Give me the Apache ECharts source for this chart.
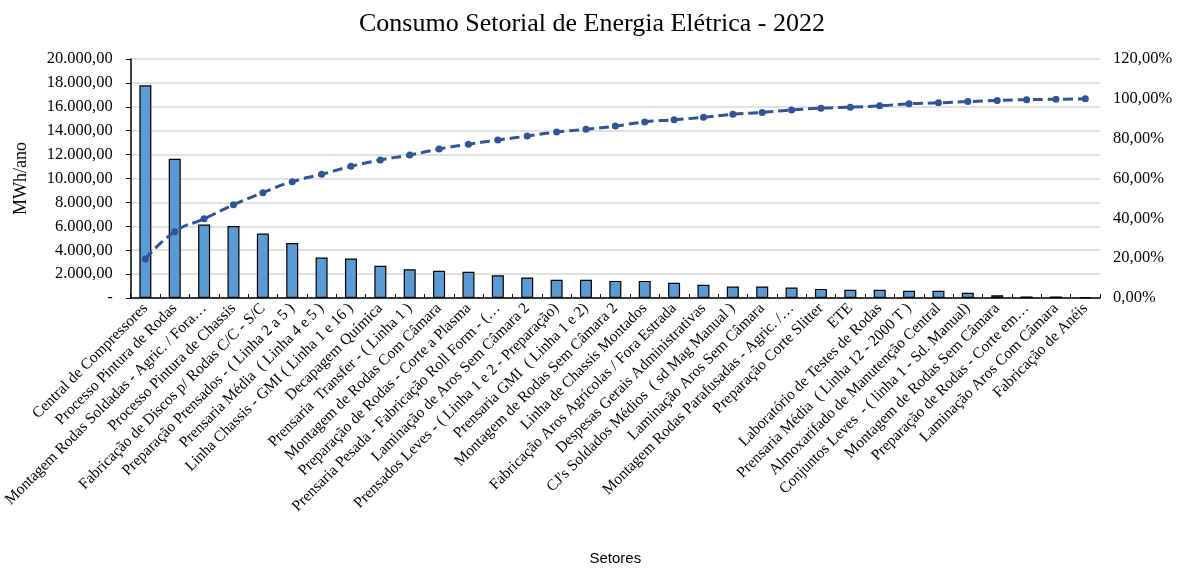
<!DOCTYPE html>
<html>
<head>
<meta charset="utf-8">
<script src="https://cdn.jsdelivr.net/npm/echarts@6/dist/echarts.min.js"></script>
<style>
html,body{margin:0;padding:0;background:#fff;}
#chart{width:1184px;height:568px;}
</style>
</head>
<body>
<div id="chart"></div>
<script>
var setores = [
    'Central de Compressores',
    'Processo Pintura de Rodas',
    'Montagem Rodas Soldadas - Agric. / Fora…',
    'Processo Pintura de Chassis',
    'Fabricação de Discos p/ Rodas C/C - S/C',
    'Preparação Prensados - ( Linha 2 a 5 )',
    'Prensaria Média  ( Linha 4 e 5 )',
    'Linha Chassis - GMI ( Linha 1 e 16 )',
    'Decapagem Química',
    'Prensaria  Transfer - ( Linha 1 )',
    'Montagem de Rodas Com Câmara',
    'Preparação de Rodas - Corte a Plasma',
    'Prensaria Pesada - Fabricação Roll Form - (…',
    'Laminação de Aros Sem Câmara 2',
    'Prensados Leves - ( Linha 1 e 2 - Preparação)',
    'Prensaria GMI  ( Linha 1 e 2)',
    'Montagem de Rodas Sem Câmara 2',
    'Linha de Chassis Montados',
    'Fabricação Aros Agrícolas / Fora Estrada',
    'Despesas Gerais Administrativas',
    'CJ\'s Soldados Médios  ( sd Mag Manual )',
    'Laminação Aros Sem Câmara',
    'Montagem Rodas Parafusadas - Agric. /…',
    'Preparação Corte Slitter',
    'ETE',
    'Laboratório de Testes de Rodas',
    'Prensaria Média  ( Linha 12 - 2000 T )',
    'Almoxarifado de Manutenção Central',
    'Conjuntos Leves  - ( linha 1 - Sd. Manual)',
    'Montagem de Rodas Sem Câmara',
    'Preparação de Rodas - Corte em…',
    'Laminação Aros Com Câmara',
    'Fabricação de Anéis'
];
var consumo = [17800, 11650, 6150, 6020, 5400, 4600, 3380, 3300, 2700, 2400, 2280, 2200,
    1900, 1720, 1520, 1520, 1430, 1430, 1270, 1100, 960, 960, 880, 760,
    680, 680, 600, 600, 430, 220, 130, 130, 60];
var acumulado = [19.6, 33.3, 39.8, 46.8, 52.9, 58.4, 62.1, 66.1, 69.3, 71.8, 74.8, 77.2,
    79.3, 81.3, 83.3, 84.7, 86.3, 88.4, 89.5, 90.7, 92.2, 93.2, 94.4, 95.3,
    95.8, 96.5, 97.5, 98.0, 98.6, 99.2, 99.6, 99.8, 100.0];

function fmtBR(v){
    if(v==0) return '-';
    var s = v.toFixed(2).split('.');
    var inteiro = s[0].replace(/\B(?=(\d{3})+(?!\d))/g, '.');
    return inteiro + ',' + s[1];
}

var serif = 'Liberation Serif';
var chart = echarts.init(document.getElementById('chart'));
var option = {
    animation: false,
    title: {
        text: 'Consumo Setorial de Energia Elétrica - 2022',
        left: 'center',
        top: 6,
        textStyle: {fontFamily: serif, fontSize: 26, fontWeight: 'normal', color: '#000'}
    },
    grid: {left: 130, right: 84, top: 59, bottom: 270},
    xAxis: {
        type: 'category',
        data: setores,
        name: 'Setores',
        nameLocation: 'middle',
        nameGap: 253,
        nameTextStyle: {fontFamily: 'Liberation Sans', fontSize: 15, color: '#000'},
        axisLine: {lineStyle: {color: '#000', width: 1.5}},
        axisTick: {show: true, inside: true, length: 4, lineStyle: {color: '#000'}},
        axisLabel: {rotate: 45, interval: 0, margin: 8, fontFamily: serif, fontSize: 15.5, color: '#000'}
    },
    yAxis: [
        {
            type: 'value',
            min: 0,
            max: 20000,
            interval: 2000,
            name: 'MWh/ano',
            nameLocation: 'middle',
            nameGap: 100,
            nameTextStyle: {fontFamily: serif, fontSize: 18, color: '#000'},
            axisLine: {show: true, lineStyle: {color: '#000', width: 1.5}},
            axisTick: {show: true, length: 5, lineStyle: {color: '#000'}},
            axisLabel: {fontFamily: serif, fontSize: 16.5, color: '#000', margin: 18, formatter: fmtBR},
            splitLine: {lineStyle: {color: '#d9d9d9', width: 1.5}}
        },
        {
            type: 'value',
            min: 0,
            max: 120,
            interval: 20,
            axisLine: {show: false},
            axisTick: {show: false},
            axisLabel: {fontFamily: serif, fontSize: 16.5, color: '#000', margin: 13,
                formatter: function(v){ return v.toFixed(2).replace('.', ',') + '%'; }},
            splitLine: {show: false}
        }
    ],
    series: [
        {
            name: 'Consumo',
            type: 'bar',
            data: consumo,
            barWidth: 12,
            itemStyle: {color: '#5b9bd5', borderColor: '#000', borderWidth: 1.2}
        },
        {
            name: 'Acumulado',
            type: 'line',
            yAxisIndex: 1,
            data: acumulado,
            smooth: true,
            symbol: 'circle',
            symbolSize: 7,
            itemStyle: {color: '#2f5597'},
            lineStyle: {color: '#2f5597', width: 3, type: [10, 5]}
        }
    ]
};
chart.setOption(option);
window.onresize = chart.resize;
</script>
</body>
</html>
